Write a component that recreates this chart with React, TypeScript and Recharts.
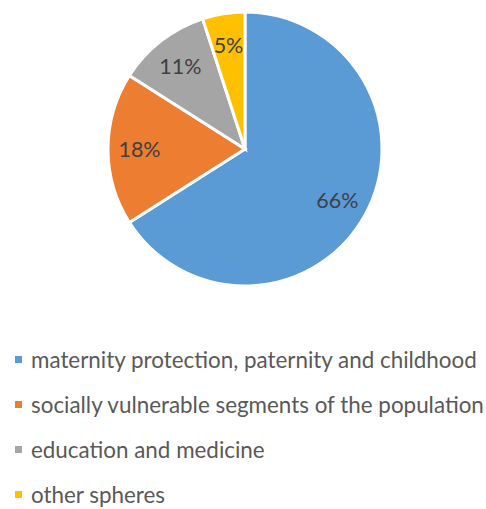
import React from 'react';
import { PieChart, Pie, Cell, Legend } from 'recharts';

const CATEGORIES = [
  'maternity protection, paternity and childhood',
  'socially vulnerable segments of the population',
  'education and medicine',
  'other spheres',
];
const VALUES = [66, 18, 11, 5];
const COLORS = ['#5b9bd5', '#ed7d31', '#a5a5a5', '#ffc000'];

const data = CATEGORIES.map((name, i) => ({ name, value: VALUES[i], fill: COLORS[i] }));

const FONT = 'Lato, "Open Sans", sans-serif';
const RAD = Math.PI / 180;

const renderLabel = ({ cx, cy, midAngle, outerRadius, value }: any) => {
  const r = outerRadius * 0.77;
  const x = cx + r * Math.cos(-midAngle * RAD);
  const y = cy + r * Math.sin(-midAngle * RAD);
  return (
    <text x={x} y={y} fill="#404040" fontSize={21.5} fontFamily={FONT}
      textAnchor="middle" dominantBaseline="central">
      {value}%
    </text>
  );
};

const renderLegend = () => (
  <div style={{ display: 'flex', flexDirection: 'column' }}>
    {data.map((d, i) => (
      <div key={i} style={{ display: 'flex', alignItems: 'center', height: 45, fontFamily: FONT, fontSize: 22.4, color: '#595959', whiteSpace: 'nowrap' }}>
        <div style={{ width: 7, height: 7, background: d.fill, marginLeft: 15, marginRight: 9, flexShrink: 0 }} />
        <span>{d.name}</span>
      </div>
    ))}
  </div>
);

export default function App() {
  return (
    <div style={{ background: '#fff', width: 486, height: 509, position: 'relative' }}>
      <style>{'body{margin:0}'}</style>
      <PieChart width={486} height={509} margin={{ top: 0, right: 0, bottom: 0, left: 0 }}>
        <Pie data={data} dataKey="value" cx={245} cy={149} outerRadius={137}
          startAngle={90} endAngle={-270} stroke="#fff" strokeWidth={3}
          label={renderLabel} labelLine={false} isAnimationActive={false}>
          {data.map((d, i) => <Cell key={i} fill={d.fill} />)}
        </Pie>
        <Legend content={renderLegend} layout="vertical"
          wrapperStyle={{ position: 'absolute', left: 0, top: 337, width: 486 }} />
      </PieChart>
    </div>
  );
}
